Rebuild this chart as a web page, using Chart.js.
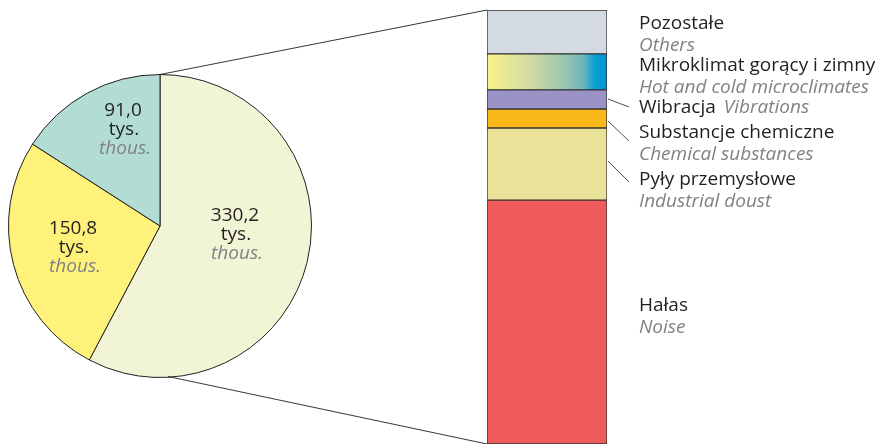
<!DOCTYPE html>
<html>
<head>
<meta charset="utf-8">
<script src="https://cdn.jsdelivr.net/npm/chart.js@4.4.1/dist/chart.umd.min.js"></script>
<style>
  html, body { margin: 0; padding: 0; background: #fff; }
  #wrap { position: relative; width: 881px; height: 444px; }
  #wrap canvas { position: absolute; left: 0; top: 0; }
</style>
</head>
<body>
<div id="wrap">
  <canvas id="bar_chart" width="881" height="444"></canvas>
  <canvas id="pie_chart" width="881" height="444"></canvas>
</div>
<script>
// pie: thousands of people
const pie_values = [330.2, 150.8, 91.0];
const pie_labels = ['330,2', '150,8', '91,0'];
const pie_colors = ['#f2f5d5', '#fff27a', '#b3ddd4'];

// breakdown of the 330,2 slice, bottom to top
const bar_values = [185.6, 54.8, 14.5, 14.5, 27.4, 33.4];
const bar_pl = ['Hałas', 'Pyły przemysłowe', 'Substancje chemiczne', 'Wibracja', 'Mikroklimat gorący i zimny', 'Pozostałe'];
const bar_en = ['Noise', 'Industrial doust', 'Chemical substances', 'Vibrations', 'Hot and cold microclimates', 'Others'];
const bar_colors = ['#ef5a5a', '#ebe29a', '#fbb919', '#9b93c6', 'gradient', '#d3dae1'];

const FONT = '"Open Sans", "Noto Sans", sans-serif';
const FS = 19;
const BLACK = '#231f20';
const GRAY = '#808285';

// label layout (y of first line) and leader lines
const bar_label_y = [306, 180, 133, 108, 66, 24];
const leaders = {1: [161, 182], 2: [121, 141], 3: [99, 107]};
// pie label offsets from pie centre
const pie_label_pos = [[75, -10], [-87, 3], [-37, -115]];

const mikroGradient = (ctx) => {
  const area = ctx.chart.chartArea;
  if (!area) return '#9cc9b3';
  const g = ctx.chart.ctx.createLinearGradient(area.left, 0, area.right, 0);
  g.addColorStop(0, '#f9f18a');
  g.addColorStop(0.35, '#d3dca2');
  g.addColorStop(0.65, '#99c5b2');
  g.addColorStop(0.8, '#6db6bb');
  g.addColorStop(0.9, '#08a0d6');
  g.addColorStop(1, '#0091d2');
  return g;
};

const barLabels = {
  id: 'barLabels',
  afterDraw(chart) {
    const ctx = chart.ctx;
    const x0 = chart.chartArea.right + 32;
    ctx.save();
    ctx.textBaseline = 'middle';
    ctx.textAlign = 'left';
    bar_pl.forEach((pl, i) => {
      const y = bar_label_y[i];
      ctx.fillStyle = BLACK;
      ctx.font = `${FS}px ${FONT}`;
      ctx.fillText(pl, x0, y);
      const w = ctx.measureText(pl).width;
      ctx.fillStyle = GRAY;
      ctx.font = `italic ${FS}px ${FONT}`;
      if (i === 3) {
        ctx.fillText(bar_en[i], x0 + w + 8, y);
      } else {
        ctx.fillText(bar_en[i], x0, y + 22);
      }
    });
    ctx.strokeStyle = BLACK;
    ctx.lineWidth = 0.8;
    Object.keys(leaders).forEach((k) => {
      const [ya, yb] = leaders[k];
      ctx.beginPath();
      ctx.moveTo(chart.chartArea.right + 1, ya);
      ctx.lineTo(x0 - 10, yb);
      ctx.stroke();
    });
    ctx.restore();
  }
};

const bar_chart = new Chart(document.getElementById('bar_chart'), {
  type: 'bar',
  data: {
    labels: [''],
    datasets: bar_values.map((v, i) => ({
      label: bar_pl[i],
      data: [v],
      backgroundColor: bar_colors[i] === 'gradient' ? mikroGradient : bar_colors[i],
      borderColor: '#333333',
      borderWidth: 1,
      borderSkipped: false,
      stack: 'a'
    }))
  },
  options: {
    animation: false,
    responsive: false,
    barPercentage: 1,
    categoryPercentage: 1,
    scales: {
      x: { display: false, stacked: true },
      y: { display: false, stacked: true, min: 0, max: pie_values[0] }
    },
    plugins: { legend: { display: false }, tooltip: { enabled: false } },
    layout: { padding: { left: 487, right: 274, top: 10, bottom: 0 } }
  },
  plugins: [barLabels]
});

const pieLabels = {
  id: 'pieLabels',
  afterDraw(chart) {
    const ctx = chart.ctx;
    const arc = chart.getDatasetMeta(0).data[0];
    const cx = arc.x, cy = arc.y, r = arc.outerRadius;
    ctx.save();
    // connectors to the bar
    const area = bar_chart.chartArea;
    ctx.strokeStyle = BLACK;
    ctx.lineWidth = 0.9;
    ctx.beginPath();
    ctx.moveTo(cx, cy - r);
    ctx.lineTo(area.left, area.top);
    ctx.moveTo(cx + 8, cy + r - 1);
    ctx.lineTo(area.left, area.bottom);
    ctx.stroke();
    ctx.textAlign = 'center';
    ctx.textBaseline = 'middle';
    pie_labels.forEach((t, i) => {
      const x = cx + pie_label_pos[i][0];
      const y = cy + pie_label_pos[i][1];
      ctx.fillStyle = BLACK;
      ctx.font = `${FS}px ${FONT}`;
      ctx.fillText(t, x, y);
      ctx.fillText('tys.', x + 1, y + 19);
      ctx.fillStyle = GRAY;
      ctx.font = `italic ${FS}px ${FONT}`;
      ctx.fillText('thous.', x + 2, y + 38);
    });
    ctx.restore();
  }
};

const pie_chart = new Chart(document.getElementById('pie_chart'), {
  type: 'pie',
  data: {
    labels: pie_labels,
    datasets: [{
      data: pie_values,
      backgroundColor: pie_colors,
      borderColor: BLACK,
      borderWidth: 1,
      hoverOffset: 0
    }]
  },
  options: {
    animation: false,
    responsive: false,
    plugins: { legend: { display: false }, tooltip: { enabled: false } },
    layout: { padding: { left: 8, right: 569, top: 74, bottom: 66 } }
  },
  plugins: [pieLabels]
});
</script>
</body>
</html>
